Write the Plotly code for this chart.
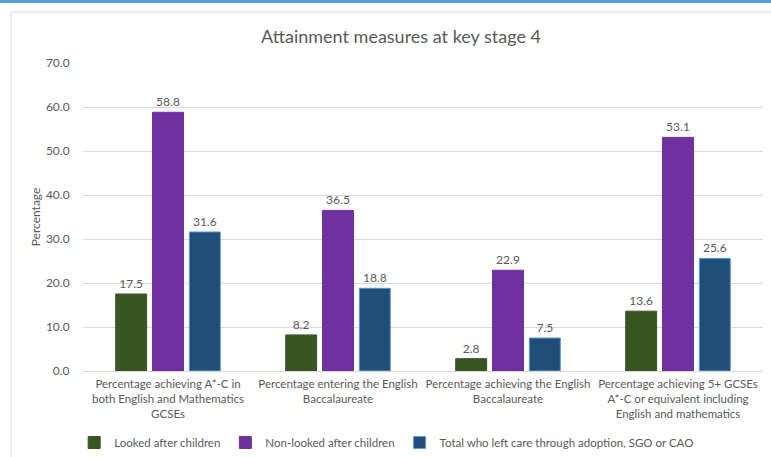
import plotly.graph_objects as go

categories = [
    "Percentage achieving A*-C in<br>both English and Mathematics<br>GCSEs",
    "Percentage entering the English<br>Baccalaureate",
    "Percentage achieving the English<br>Baccalaureate",
    "Percentage achieving 5+ GCSEs<br>A*-C or equivalent including<br>English and mathematics",
]
looked_after = [17.5, 8.2, 2.8, 13.6]
non_looked_after = [58.8, 36.5, 22.9, 53.1]
left_care_total = [31.6, 18.8, 7.5, 25.6]
series_names = [
    "Looked after children",
    "Non-looked after children",
    "Total who left care through adoption, SGO or CAO",
]
y_ticks = [0, 10, 20, 30, 40, 50, 60, 70]

FONT = "Lato"
GREY = "#595959"

fig = go.Figure()
styles = [
    ("#375623", "#375623"),
    ("#7030A0", "#7030A0"),
    ("#1F4E79", "#5B9BD5"),
]
for name, vals, (fill, edge) in zip(series_names, [looked_after, non_looked_after, left_care_total], styles):
    fig.add_trace(go.Bar(
        name=name, x=categories, y=vals,
        marker=dict(color=fill, line=dict(color=edge, width=1)),
        text=[f"{v:.1f}" for v in vals], textposition="outside",
        textfont=dict(family=FONT, size=12, color=GREY),
        cliponaxis=False,
    ))

fig.update_layout(
    width=771, height=457,
    margin=dict(l=83, r=8, t=63, b=86, autoexpand=False),
    paper_bgcolor="white", plot_bgcolor="white",
    barmode="group", bargap=0.35, bargroupgap=0.16,
    font=dict(family=FONT, size=12, color=GREY),
    title=dict(text="Attainment measures at key stage 4", x=401/771, xanchor="center",
               y=1 - 37/457, yanchor="middle", font=dict(family=FONT, size=18, color=GREY)),
    legend=dict(orientation="h", x=-0.013, xanchor="left", y=-0.185, yanchor="top",
                font=dict(family=FONT, size=11.5, color=GREY), traceorder="normal",
                itemwidth=30, bgcolor="rgba(0,0,0,0)", tracegroupgap=0),
    showlegend=True,
)
fig.update_yaxes(
    range=[0, 70], tickvals=y_ticks, ticktext=[f"{v:.1f}" for v in y_ticks],
    showgrid=True, gridcolor="#D9D9D9", gridwidth=1, zeroline=False,
    ticks="outside", ticklen=10, tickcolor="rgba(0,0,0,0)", automargin=False,
    tickfont=dict(family=FONT, size=12, color=GREY),
    title=dict(text="Percentage", standoff=2, font=dict(family=FONT, size=12, color=GREY)),
)
fig.update_xaxes(
    showline=True, linecolor="#D9D9D9", linewidth=1, tickangle=0, automargin=False,
    tickfont=dict(family=FONT, size=11.5, color=GREY),
    ticks="outside", ticklen=2, tickcolor="rgba(0,0,0,0)",
)

# chart frame and top accent line
fig.add_shape(type="rect", xref="paper", yref="paper",
              x0=(11 - 83) / 680, x1=1.2, y0=-1.0, y1=(371 - 12) / 308,
              line=dict(color="#D9D9D9", width=1), fillcolor="rgba(0,0,0,0)", layer="below")
fig.add_shape(type="rect", xref="paper", yref="paper",
              x0=-0.2, x1=1.2, y0=(371 - 3) / 308, y1=(371 + 5) / 308,
              line=dict(width=0), fillcolor="#5B9BD5", layer="above")

fig.write_html("out.html", config={"displayModeBar": False},
               post_script="document.body.style.margin='0';")
